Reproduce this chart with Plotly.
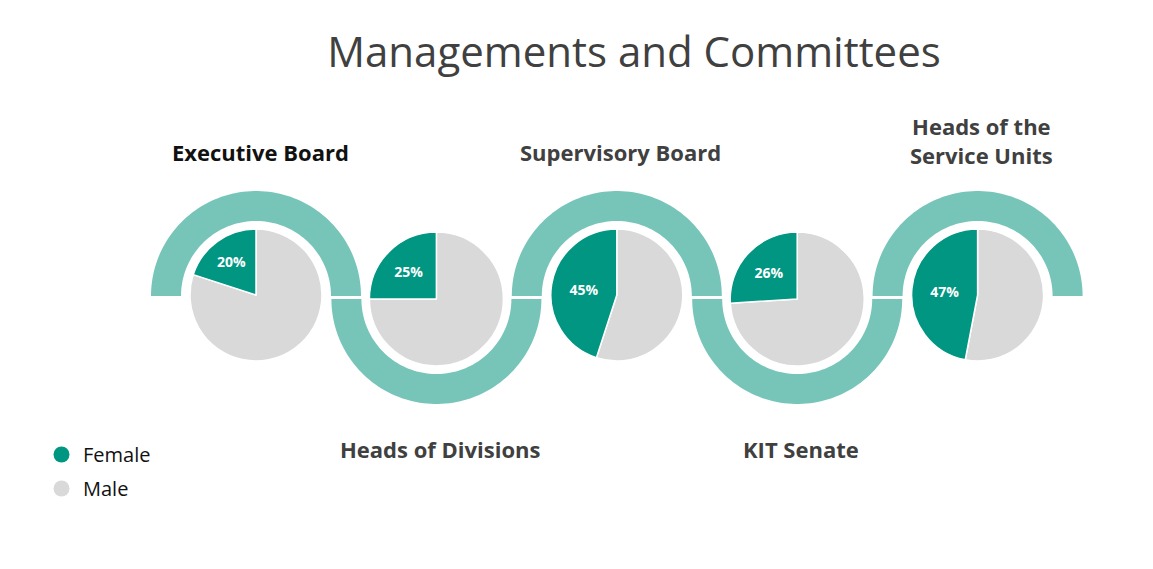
import numpy as np
import plotly.graph_objects as go

# ---- data ----
groups = ["Executive Board", "Heads of Divisions", "Supervisory Board",
          "KIT Senate", "Heads of the<br>Service Units"]
female_pct = [20, 25, 45, 26, 47]
male_pct = [80, 75, 55, 74, 53]
series = ["Female", "Male"]

# ---- style ----
W, H = 1153, 569
OFF = 8  # page margin of the browser
FEMALE = "#009682"
MALE = "#D9D9D9"
ARC = "#77C5B8"
TXT = "#404040"

def fx(s):  # screen x -> paper
    return (s - OFF) / W

def fy(s):  # screen y -> paper
    return 1 - (s - OFF) / H

fig = go.Figure()

x0, step = 256.0, 180.4
top_cy, bot_cy = 295.0, 299.0
R_out, R_in = 105.0, 75.0

def arc_path(cx, cy, up):
    th = np.linspace(np.pi, 0, 90)
    s = -1 if up else 1
    ox = cx + R_out * np.cos(th)
    oy = cy + s * R_out * np.sin(th)
    ix = cx + R_in * np.cos(th[::-1])
    iy = cy + s * R_in * np.sin(th[::-1])
    pts = list(zip(ox, oy)) + list(zip(ix, iy))
    return "M " + " L ".join(f"{a:.2f},{b:.2f}" for a, b in pts) + " Z"

for i, g in enumerate(groups):
    up = (i % 2 == 0)
    cx = x0 + i * step
    acy = (top_cy + 1) if up else bot_cy
    fig.add_shape(type="path", path=arc_path(cx, acy, up), xref="x", yref="y",
                  fillcolor=ARC, line=dict(width=0), layer="below")
    cy = top_cy if up else bot_cy
    r = 66 if up else 67
    # male first, clockwise from 12 o'clock -> female ends at 12 o'clock on the left
    fig.add_trace(go.Pie(
        labels=[series[1], series[0]], values=[male_pct[i], female_pct[i]],
        sort=False, direction="clockwise", rotation=0,
        marker=dict(colors=[MALE, FEMALE], line=dict(color="white", width=1.5)),
        texttemplate=["", "<b>%{value}%</b>"], textposition="inside",
        insidetextorientation="horizontal",
        textfont=dict(color="white", size=14, family="Open Sans"),
        domain=dict(x=[fx(cx - r), fx(cx + r)], y=[fy(cy + r), fy(cy - r)]),
        showlegend=False, hoverinfo="skip",
    ))
    if up:
        ly = 152 if "<br>" not in g else 140
    else:
        ly = 449
    fig.add_annotation(x=cx + 4, y=ly, xref="x", yref="y", text=f"<b>{g}</b>",
                       showarrow=False,
                       font=dict(size=22, family="Open Sans",
                                 color="#111111" if i == 0 else TXT),
                       xanchor="center", yanchor="middle")

# legend entries
for name, col in zip(series, [FEMALE, MALE]):
    fig.add_trace(go.Scatter(x=[None], y=[None], mode="markers", name=name,
                             legendgroup=name,
                             marker=dict(size=19, color=col, symbol="circle"),
                             hoverinfo="skip"))

fig.update_layout(
    width=W, height=H, margin=dict(l=0, r=0, t=0, b=0),
    paper_bgcolor="white", plot_bgcolor="white",
    xaxis=dict(range=[OFF, W + OFF], visible=False, fixedrange=True, domain=[0, 1]),
    yaxis=dict(range=[H + OFF, OFF], visible=False, fixedrange=True, domain=[0, 1]),
    title=dict(text="Managements and Committees", x=fx(634), xanchor="center",
               y=fy(52), yanchor="middle",
               font=dict(size=42, family="Open Sans", color=TXT)),
    legend=dict(x=fx(40), y=fy(435), xanchor="left", yanchor="top",
                font=dict(size=20, family="Open Sans", color="#111111"),
                itemwidth=33,
                tracegroupgap=5, bgcolor="rgba(0,0,0,0)"),
    showlegend=True,
)

fig.write_html("out.html")
